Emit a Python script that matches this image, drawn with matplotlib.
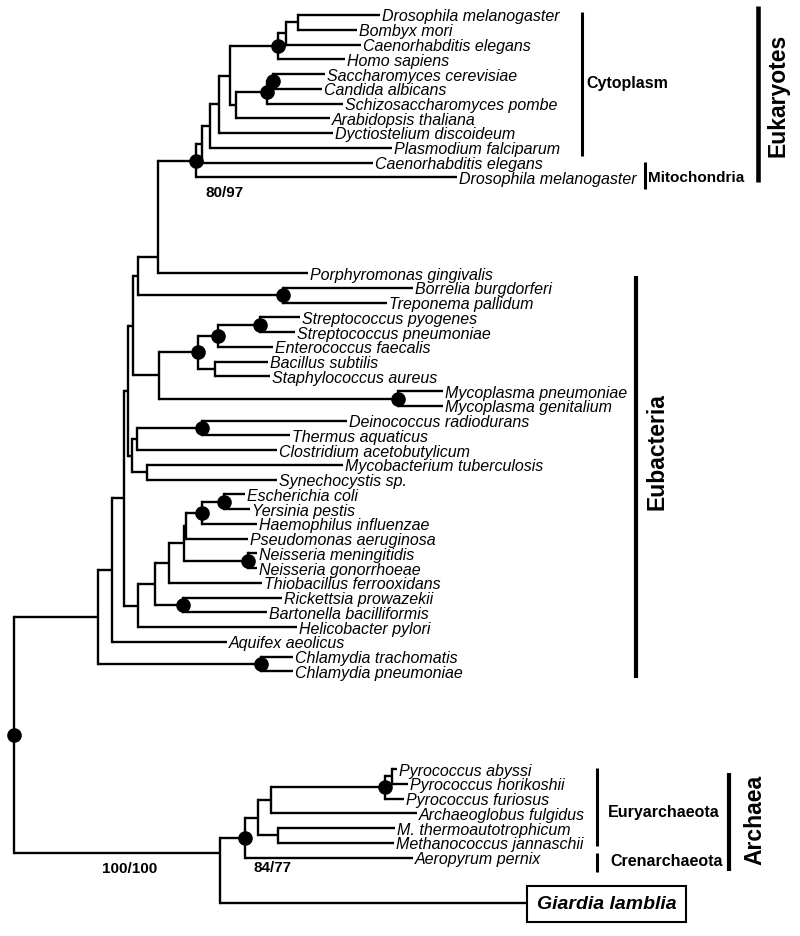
import matplotlib.pyplot as plt

plt.rcParams['font.family'] = ['Liberation Sans', 'DejaVu Sans']

# ---------- Data ----------
# leaves, top to bottom
taxa = [
    "Drosophila melanogaster", "Bombyx mori", "Caenorhabditis elegans", "Homo sapiens",
    "Saccharomyces cerevisiae", "Candida albicans", "Schizosaccharomyces pombe",
    "Arabidopsis thaliana", "Dyctiostelium discoideum", "Plasmodium falciparum",
    "Caenorhabditis elegans", "Drosophila melanogaster",
    "Porphyromonas gingivalis", "Borrelia burgdorferi", "Treponema pallidum",
    "Streptococcus pyogenes", "Streptococcus pneumoniae", "Enterococcus faecalis",
    "Bacillus subtilis", "Staphylococcus aureus", "Mycoplasma pneumoniae",
    "Mycoplasma genitalium", "Deinococcus radiodurans", "Thermus aquaticus",
    "Clostridium acetobutylicum", "Mycobacterium tuberculosis", "Synechocystis sp.",
    "Escherichia coli", "Yersinia pestis", "Haemophilus influenzae",
    "Pseudomonas aeruginosa", "Neisseria meningitidis", "Neisseria gonorrhoeae",
    "Thiobacillus ferrooxidans", "Rickettsia prowazekii", "Bartonella bacilliformis",
    "Helicobacter pylori", "Aquifex aeolicus", "Chlamydia trachomatis",
    "Chlamydia pneumoniae",
    "Pyrococcus abyssi", "Pyrococcus horikoshii", "Pyrococcus furiosus",
    "Archaeoglobus fulgidus", "M. thermoautotrophicum", "Methanococcus jannaschii",
    "Aeropyrum pernix", "Giardia lamblia",
]
# distance of each leaf from the left edge (tree units)
tip_depth = [
    380, 357, 361, 345, 325, 322, 343, 330, 333, 392, 373, 457,
    308, 413, 387, 300, 295, 273, 268, 270, 443, 443, 347, 290,
    277, 343, 277, 245, 250, 257, 248, 257, 257, 262, 282, 267,
    297, 227, 293, 293,
    397, 408, 404, 417, 395, 394, 413, 527,
]
# extra empty rows inserted after a leaf (group separation)
gap_after = {11: 5.5, 39: 5.62, 46: 2.08}

# internal nodes: (name, depth, children)  children = leaf index or node name
nodes = [
    ("n1", 297.7, [0, 1]),
    ("n2", 286.0, ["n1", 2]),
    ("n3", 277.7, ["n2", 3]),
    ("n4", 273.0, [4, 5]),
    ("n5", 266.7, ["n4", 6]),
    ("n6", 235.7, ["n5", 7]),
    ("n7", 230.0, ["n3", "n6"]),
    ("n8", 219.0, ["n7", 8]),
    ("n9", 210.0, ["n8", 9]),
    ("n10", 201.7, ["n9", 10]),
    ("euk", 196.0, ["n10", 11]),
    ("n12", 158.3, ["euk", 12]),
    ("n13", 282.7, [13, 14]),
    ("n14", 138.3, ["n12", "n13"]),
    ("n15", 260.0, [15, 16]),
    ("n16", 217.7, ["n15", 17]),
    ("n17", 215.0, [18, 19]),
    ("n18", 197.7, ["n16", "n17"]),
    ("n19", 398.3, [20, 21]),
    ("n20", 159.3, ["n18", "n19"]),
    ("n21", 133.3, ["n14", "n20"]),
    ("n22", 201.7, [22, 23]),
    ("n23", 136.7, ["n22", 24]),
    ("n24", 146.7, [25, 26]),
    ("n25", 131.7, ["n23", "n24"]),
    ("n26", 128.0, ["n21", "n25"]),
    ("n27", 224.0, [27, 28]),
    ("n28", 202.0, ["n27", 29]),
    ("n29", 186.0, ["n28", 30]),
    ("n30", 248.3, [31, 32]),
    ("n31", 183.5, ["n29", "n30"]),
    ("n32", 168.5, ["n31", 33]),
    ("n33", 183.3, [34, 35]),
    ("n34", 155.0, ["n32", "n33"]),
    ("n35", 137.7, ["n34", 36]),
    ("n36", 124.3, ["n26", "n35"]),
    ("n37", 112.0, ["n36", 37]),
    ("n38", 261.0, [38, 39]),
    ("n39", 98.3, ["n37", "n38"]),
    ("n40", 392.3, [40, 41]),
    ("n41", 385.0, ["n40", 42]),
    ("n42", 270.7, ["n41", 43]),
    ("n43", 278.3, [44, 45]),
    ("n44", 258.3, ["n42", "n43"]),
    ("arch", 245.0, ["n44", 46]),
    ("n46", 220.0, ["arch", 47]),
    ("root", 14.0, ["n39", "n46"]),
]
# where the parent branch joins the node's vertical (0 = first child, 1 = last)
join_frac = {"n12": 0.86, "n46": 0.23}

# nodes with strong support (black dots)
supported = ["n3", "n4", "n5", "euk", "n13", "n15", "n16", "n18", "n19", "n22",
             "n27", "n28", "n30", "n33", "n38", "n41", "arch", "root"]
support_text = {"euk": "80/97", "arch": "84/77", "root": "100/100"}

# ---------- Layout ----------
row_h = 14.75
y0 = 16.0
leaf_y = []
row = 0.0
for i in range(len(taxa)):
    leaf_y.append(y0 + row * row_h)
    row += 1 + gap_after.get(i, 0)

pos = {}
for i in range(len(taxa)):
    pos[i] = (tip_depth[i], leaf_y[i])
for name, depth, kids in nodes:
    ys = [pos[k][1] for k in kids]
    f = join_frac.get(name, 0.5)
    pos[name] = (depth, ys[0] + f * (ys[-1] - ys[0]))

# ---------- Draw ----------
fig = plt.figure(figsize=(8, 9.37), dpi=100)
ax = fig.add_axes([0, 0, 1, 1])
ax.set_xlim(0, 800)
ax.set_ylim(937, 0)
ax.axis("off")

lw = 1.7
for name, depth, kids in nodes:
    ys = [pos[k][1] for k in kids]
    ax.plot([depth, depth], [min(ys), max(ys)], color="black", lw=lw,
            solid_capstyle="projecting")
    for k in kids:
        kx, ky = pos[k]
        ax.plot([depth, kx], [ky, ky], color="black", lw=lw,
                solid_capstyle="butt")

for name in supported:
    x, y = pos[name]
    ax.plot(x, y, "o", color="black", ms=9.5)

for i, name in enumerate(taxa):
    x, y = pos[i]
    if name == "Giardia lamblia":
        ax.text(x + 9.7, y + 1, name, fontsize=14, fontweight="bold",
                style="italic", va="center", ha="left",
                bbox=dict(boxstyle="square,pad=0.5", fc="white", ec="black", lw=1.5))
    else:
        ax.text(x + 2, y + 1, name, fontsize=11.5, style="italic",
                va="center", ha="left")

offsets = {"euk": (9, 31, "left"), "arch": (8, 29, "left"), "root": (116, 15, "center")}
for name, txt in support_text.items():
    x, y = pos[name]
    dx, dy, ha = offsets[name]
    if name == "root":
        y = pos["n46"][1]
    ax.text(x + dx, y + dy, txt, fontsize=11, fontweight="bold", ha=ha, va="center")

# group brackets: (label, x, y_top, y_bottom, line width, label size, rotated)
brackets = [
    ("Cytoplasm", 581.7, 13, 157, 2.2, 11.5, False),
    ("Mitochondria", 645.0, 163, 190, 2.2, 11, False),
    ("Eukaryotes", 758.3, 7, 183, 3.3, 16.5, True),
    ("Eubacteria", 635.7, 277, 679, 3.0, 16.5, True),
    ("Euryarchaeota", 596.7, 769, 847, 2.2, 11.5, False),
    ("Crenarchaeota", 596.7, 854, 873, 2.2, 11.5, False),
    ("Archaea", 729.3, 774, 872, 3.0, 16.5, True),
]
label_at = {
    "Cytoplasm": (586.7, 83.3), "Mitochondria": (648.3, 177.7),
    "Eukaryotes": (778.3, 95), "Eubacteria": (656.7, 452),
    "Euryarchaeota": (607.7, 812.3), "Crenarchaeota": (610, 861.7),
    "Archaea": (755, 820),
}
for label, bx, yt, yb, blw, fs, rot in brackets:
    ax.plot([bx, bx], [yt, yb], color="black", lw=blw, solid_capstyle="butt")
    lx, ly = label_at[label]
    if rot:
        ax.text(lx, ly, label, fontsize=fs, fontweight="bold", rotation=90,
                ha="center", va="center")
    else:
        ax.text(lx, ly, label, fontsize=fs, fontweight="bold", ha="left", va="center")

fig.savefig("out.png", dpi=100)
